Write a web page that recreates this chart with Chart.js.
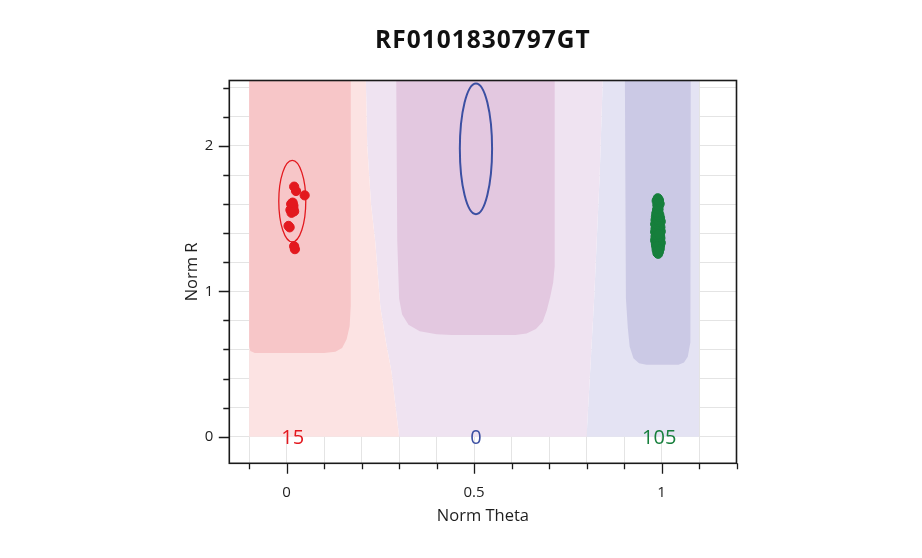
<!DOCTYPE html>
<html>
<head>
<meta charset="utf-8">
<script src="https://cdn.jsdelivr.net/npm/chart.js@4.4.1/dist/chart.umd.min.js"></script>
<style>
html,body{margin:0;padding:0;background:#ffffff;}
#wrap{width:922px;height:558px;position:relative;}
</style>
</head>
<body>
<div id="wrap"><canvas id="c"></canvas></div>
<script>
// ---------- text ----------
const chartTitle = 'RF0101830797GT';
const xAxisTitle = 'Norm Theta';
const yAxisTitle = 'Norm R';

// ---------- axes ----------
const xMin = -0.153, xMax = 1.2;
const yMin = -0.183, yMax = 2.45;
const xTickValues = [-0.1, 0, 0.1, 0.2, 0.3, 0.4, 0.5, 0.6, 0.7, 0.8, 0.9, 1, 1.1, 1.2];
const xTickLabels = ['', '0', '', '', '', '', '0.5', '', '', '', '', '1', '', ''];
const yTickValues = [0, 0.2, 0.4, 0.6, 0.8, 1, 1.2, 1.4, 1.6, 1.8, 2, 2.2, 2.4];
const yTickLabels = ['0', '', '', '', '', '1', '', '', '', '', '2', '', ''];

// ---------- cluster counts ----------
const clusterCounts = [15, 0, 105];
const clusterCountTheta = [0.016, 0.505, 0.994];
const clusterCountR = [0, 0, 0];

// ---------- cluster ellipses (center, half-spans) ----------
const ellipseTheta = [0.015, 0.505];
const ellipseR = [1.62, 1.98];
const ellipseHalfTheta = [0.036, 0.043];
const ellipseHalfR = [0.28, 0.45];

// ---------- samples ----------
const redTheta = [0.020, 0.025, 0.048, 0.012, 0.015, 0.010, 0.013, 0.018, 0.008, 0.005, 0.020, 0.022, 0.018, 0.020, 0.016];
const redR     = [1.720, 1.690, 1.660, 1.600, 1.580, 1.560, 1.540, 1.590, 1.440, 1.450, 1.310, 1.290, 1.570, 1.550, 1.610];

const greenTheta = [
  0.990,0.993,0.987,0.991,0.995,0.989,0.992,0.990,0.988,0.991,
  0.986,0.994,0.989,0.985,0.996,0.990,0.984,0.993,0.998,0.987,
  0.991,0.983,0.995,0.989,0.986,0.997,0.992,0.984,0.990,0.995,
  0.987,0.998,0.983,0.991,0.986,0.994,0.989,0.985,0.996,0.992,
  0.984,0.988,0.997,0.990,0.986,0.993,0.983,0.995,0.989,0.987,
  0.998,0.991,0.985,0.994,0.988,0.996,0.986,0.992,0.989,0.995,
  0.987,0.991,0.993,0.989,0.991,0.990,0.992,0.988,0.994,0.986,
  0.990,0.993,0.987,0.991,0.989,0.995,0.985,0.992,0.988,0.994,
  0.990,0.986,0.993,0.989,0.991,0.987,0.995,0.990,0.988,0.993,
  0.986,0.991,0.989,0.994,0.990,0.988,0.992,0.990,0.993,0.989,
  0.991,0.988,0.994,0.990,0.992
];
const greenR = [
  1.640,1.628,1.622,1.610,1.602,1.595,1.585,1.572,1.560,1.548,
  1.535,1.528,1.520,1.512,1.505,1.498,1.490,1.486,1.480,1.474,
  1.468,1.462,1.458,1.452,1.446,1.441,1.436,1.430,1.426,1.421,
  1.416,1.412,1.408,1.404,1.399,1.395,1.390,1.386,1.382,1.378,
  1.374,1.370,1.366,1.362,1.358,1.354,1.350,1.346,1.342,1.338,
  1.334,1.330,1.326,1.322,1.318,1.313,1.308,1.303,1.298,1.292,
  1.286,1.280,1.272,1.264,1.258,1.470,1.455,1.440,1.430,1.420,
  1.410,1.400,1.392,1.384,1.376,1.368,1.360,1.352,1.344,1.336,
  1.328,1.320,1.340,1.356,1.372,1.388,1.404,1.418,1.434,1.448,
  1.462,1.476,1.492,1.510,1.525,1.540,1.565,1.590,1.615,1.630,
  1.300,1.310,1.290,1.275,1.395
];

// ---------- classification regions (outline vertices) ----------
const palePinkTheta = [-0.1, -0.1, 0.21, 0.215, 0.225, 0.236, 0.25, 0.265, 0.28, 0.3];
const palePinkR     = [0, 2.6, 2.6, 2.0, 1.6, 1.35, 0.89, 0.65, 0.44, 0];

const lavenderTheta = [0.3, 0.28, 0.265, 0.25, 0.236, 0.225, 0.215, 0.21, 0.845, 0.835, 0.82, 0.8];
const lavenderR     = [0, 0.44, 0.65, 0.89, 1.35, 1.6, 2.0, 2.6, 2.6, 1.8, 0.94, 0];

const paleBlueTheta = [0.8, 0.82, 0.835, 0.845, 1.1, 1.1];
const paleBlueR     = [0, 0.94, 1.8, 2.6, 2.6, 0];

const redZoneTheta = [-0.1, 0.171, 0.171, 0.168, 0.16, 0.148, 0.13, 0.1, -0.085, -0.097, -0.1];
const redZoneR     = [2.6, 2.6, 0.9, 0.76, 0.67, 0.61, 0.585, 0.575, 0.575, 0.59, 0.62];

const purpleZoneTheta = [0.292, 0.715, 0.715, 0.711, 0.703, 0.694, 0.683, 0.665, 0.64, 0.61, 0.44, 0.40, 0.355, 0.325, 0.308, 0.30, 0.295];
const purpleZoneR     = [2.6, 2.6, 1.17, 1.06, 0.96, 0.87, 0.79, 0.74, 0.71, 0.70, 0.70, 0.705, 0.725, 0.77, 0.84, 0.95, 1.35];

const blueZoneTheta = [0.902, 1.078, 1.078, 1.076, 1.07, 1.06, 1.045, 0.96, 0.94, 0.925, 0.915, 0.91, 0.905];
const blueZoneR     = [2.6, 2.6, 0.9, 0.65, 0.55, 0.51, 0.495, 0.495, 0.505, 0.54, 0.62, 0.75, 0.95];

// ---------- styles ----------
const FONT = "'Open Sans', 'Noto Sans', sans-serif";
const colors = {
  palePink: '#fce3e3', lavender: '#efe3f1', paleBlue: '#e4e3f3',
  redZone: '#f7c6c8', purpleZone: '#e3c8e0', blueZone: '#cbc9e5',
  red: '#e3191f', green: '#167f3c', blue: '#3b4fa2',
  grid: '#e4e4e4', axis: '#1a1a1a', text: '#1e1e1e'
};
const countColors = [colors.red, colors.blue, colors.green];
const ellipseColors = [colors.red, colors.blue];
const ellipseWidths = [1.3, 2];

function pts(xs, ys) { return xs.map((v, i) => ({x: v, y: ys[i]})); }
function region(xs, ys, color, order) {
  return {
    data: pts(xs, ys), showLine: true, fill: 'shape',
    backgroundColor: color, borderColor: 'rgba(0,0,0,0)', borderWidth: 1,
    pointRadius: 0, pointHoverRadius: 0, tension: 0, order: order
  };
}

const decor = {
  id: 'decor',
  afterDatasetsDraw(chart) {
    const {ctx, chartArea: a, scales: {x, y}} = chart;
    ctx.save();
    ctx.beginPath(); ctx.rect(a.left, a.top, a.right - a.left, a.bottom - a.top); ctx.clip();
    for (let i = 0; i < ellipseTheta.length; i++) {
      const cx = x.getPixelForValue(ellipseTheta[i]);
      const cy = y.getPixelForValue(ellipseR[i]);
      const rx = Math.abs(x.getPixelForValue(ellipseTheta[i] + ellipseHalfTheta[i]) - cx);
      const ry = Math.abs(y.getPixelForValue(ellipseR[i] + ellipseHalfR[i]) - cy);
      ctx.beginPath();
      ctx.ellipse(cx, cy, rx, ry, 0, 0, Math.PI * 2);
      ctx.strokeStyle = ellipseColors[i];
      ctx.lineWidth = ellipseWidths[i];
      ctx.stroke();
    }
    ctx.restore();

    ctx.save();
    ctx.font = '20px ' + FONT;
    ctx.textAlign = 'center';
    ctx.textBaseline = 'middle';
    for (let i = 0; i < clusterCounts.length; i++) {
      ctx.fillStyle = countColors[i];
      ctx.fillText(String(clusterCounts[i]), x.getPixelForValue(clusterCountTheta[i]), y.getPixelForValue(clusterCountR[i]) + 1.5);
    }
    ctx.restore();

    // frame
    ctx.save();
    ctx.strokeStyle = colors.axis;
    ctx.lineWidth = 1.6;
    ctx.strokeRect(a.left, a.top, a.right - a.left, a.bottom - a.top);
    // tick marks
    ctx.lineWidth = 1.3;
    ctx.beginPath();
    xTickValues.forEach((v, i) => {
      const px = Math.round(x.getPixelForValue(v)) + 0.5;
      const len = xTickLabels[i] ? 10.5 : 6;
      ctx.moveTo(px, a.bottom); ctx.lineTo(px, a.bottom + len);
    });
    yTickValues.forEach((v, i) => {
      const py = Math.round(y.getPixelForValue(v)) + 0.5;
      const len = yTickLabels[i] ? 10.5 : 6;
      ctx.moveTo(a.left, py); ctx.lineTo(a.left - len, py);
    });
    ctx.stroke();
    ctx.restore();

    // title
    ctx.save();
    ctx.font = 'bold 24.5px ' + FONT;
    ctx.letterSpacing = '1px';
    ctx.fillStyle = '#111111';
    ctx.textAlign = 'center';
    ctx.textBaseline = 'middle';
    ctx.fillText(chartTitle, (a.left + a.right) / 2, 41.5);
    ctx.restore();
  }
};

Chart.defaults.font.family = FONT;

new Chart(document.getElementById('c'), {
  type: 'scatter',
  data: {
    datasets: [
      {data: pts(redTheta, redR), pointRadius: 4.6, pointBackgroundColor: colors.red, pointBorderColor: colors.red, pointBorderWidth: 1, order: 1},
      {data: pts(greenTheta, greenR), pointRadius: 4.6, pointBackgroundColor: colors.green, pointBorderColor: colors.green, pointBorderWidth: 1, order: 1},
      region(redZoneTheta, redZoneR, colors.redZone, 5),
      region(purpleZoneTheta, purpleZoneR, colors.purpleZone, 5),
      region(blueZoneTheta, blueZoneR, colors.blueZone, 5),
      region(palePinkTheta, palePinkR, colors.palePink, 10),
      region(lavenderTheta, lavenderR, colors.lavender, 10),
      region(paleBlueTheta, paleBlueR, colors.paleBlue, 10)
    ]
  },
  options: {
    responsive: true,
    maintainAspectRatio: false,
    animation: false,
    events: [],
    layout: {padding: {left: 0, right: 185.5, top: 80.5, bottom: 0}},
    plugins: {legend: {display: false}, tooltip: {enabled: false}, title: {display: false}},
    scales: {
      x: {
        type: 'linear', min: xMin, max: xMax,
        afterBuildTicks: (s) => { s.ticks = xTickValues.map(v => ({value: v})); },
        afterFit: (s) => { s.height = 94.7; },
        ticks: {autoSkip: false, maxRotation: 0, padding: 10.5, color: colors.text, font: {size: 15},
          callback: (v, i) => xTickLabels[i]},
        grid: {color: colors.grid, lineWidth: 1, drawTicks: true, tickLength: 10, tickColor: 'rgba(0,0,0,0)'},
        border: {display: false},
        title: {display: true, text: xAxisTitle, color: colors.text, font: {size: 16.5, lineHeight: 1.2}, padding: {top: 0, bottom: 31.8}}
      },
      y: {
        type: 'linear', min: yMin, max: yMax,
        afterBuildTicks: (s) => { s.ticks = yTickValues.map(v => ({value: v})); },
        afterFit: (s) => { s.width = 229.3; },
        ticks: {autoSkip: false, padding: 6, color: colors.text, font: {size: 15},
          callback: (v, i) => yTickLabels[i]},
        grid: {color: colors.grid, lineWidth: 1, drawTicks: true, tickLength: 10, tickColor: 'rgba(0,0,0,0)'},
        border: {display: false},
        title: {display: true, text: yAxisTitle, color: colors.text, font: {size: 16.5, lineHeight: 1.2}, padding: {top: 182.5, bottom: 0}}
      }
    }
  },
  plugins: [decor]
});
</script>
</body>
</html>
